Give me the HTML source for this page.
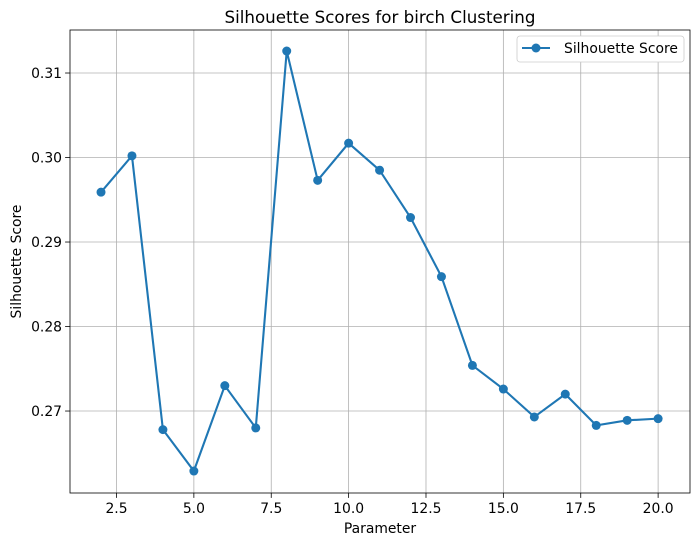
<!DOCTYPE html>
<html><head><meta charset="utf-8"><style>
body{margin:0;background:#fff;font-family:"Liberation Sans","DejaVu Sans",sans-serif;}
svg text{font-family:"DejaVu Sans","Liberation Sans",sans-serif;}
</style></head><body>
<svg id="c" width="700" height="545" xmlns="http://www.w3.org/2000/svg"></svg>
<script>
const params=[2,3,4,5,6,7,8,9,10,11,12,13,14,15,16,17,18,19,20];
const scores=[0.2959,0.3002,0.2678,0.2629,0.2730,0.2680,0.3126,0.2973,0.3017,0.2985,0.2929,0.2859,0.2754,0.2726,0.2693,0.2720,0.2683,0.2689,0.2691];
const xTicks=[2.5,5.0,7.5,10.0,12.5,15.0,17.5,20.0];
const yTicks=[0.27,0.28,0.29,0.30,0.31];
const L=70,R=690,T=30,B=493;
const xMin=0.998,xMax=21.03,yMin=0.2603,yMax=0.31509;
const X=v=>L+(v-xMin)/(xMax-xMin)*(R-L);
const Y=v=>B-(v-yMin)/(yMax-yMin)*(B-T);
const svg=document.getElementById('c');const NS='http://www.w3.org/2000/svg';
function mk(t,a,txt){const e=document.createElementNS(NS,t);for(const k in a)e.setAttribute(k,a[k]);if(txt!=null)e.textContent=txt;svg.appendChild(e);return e;}
xTicks.forEach(t=>{const x=X(t);
let g=mk('line',{x1:x,x2:x,y1:T,y2:B,stroke:'#b0b0b0','stroke-width':0.8});


mk('line',{x1:x,x2:x,y1:B,y2:B+4.9,stroke:'#000','stroke-width':0.8});
let l=mk('text',{x:x,y:B+20,'font-size':13.9,'text-anchor':'middle'},t.toFixed(1));

});
yTicks.forEach(t=>{const y=Y(t);
let g=mk('line',{x1:L,x2:R,y1:y,y2:y,stroke:'#b0b0b0','stroke-width':0.8});


mk('line',{x1:L-4.9,x2:L,y1:y,y2:y,stroke:'#000','stroke-width':0.8});
let l=mk('text',{x:L-8,y:y+5,'font-size':13.9,'text-anchor':'end'},t.toFixed(2));

});
let line=mk('polyline',{points:params.map((p,i)=>X(p)+','+Y(scores[i])).join(' '),fill:'none',stroke:'#1f77b4','stroke-width':2.1});


params.forEach((p,i)=>{let c=mk('circle',{cx:X(p),cy:Y(scores[i]),r:4.5,fill:'#1f77b4'});

});
let fr=mk('rect',{x:L,y:T,width:R-L,height:B-T,fill:'none',stroke:'#000','stroke-width':0.8});


let ti=mk('text',{x:(L+R)/2,y:T-7,'font-size':16.7,'text-anchor':'middle'},'Silhouette Scores for birch Clustering');


let xl=mk('text',{x:(L+R)/2,y:533,'font-size':13.9,'text-anchor':'middle'},'Parameter');


let yl=mk('text',{x:21,y:(T+B)/2,'font-size':13.9,'text-anchor':'middle',transform:'rotate(-90 21 '+(T+B)/2+')'},'Silhouette Score');


let lg=mk('rect',{x:517,y:36,width:167,height:26,fill:'#fff',stroke:'#ccc','stroke-width':0.8,rx:3});


mk('line',{x1:522,x2:550,y1:48,y2:48,stroke:'#1f77b4','stroke-width':2.1});
mk('circle',{cx:536,cy:48,r:4.5,fill:'#1f77b4'});
let lt=mk('text',{x:564,y:53,'font-size':13.9},'Silhouette Score');


</script>
</body></html>
